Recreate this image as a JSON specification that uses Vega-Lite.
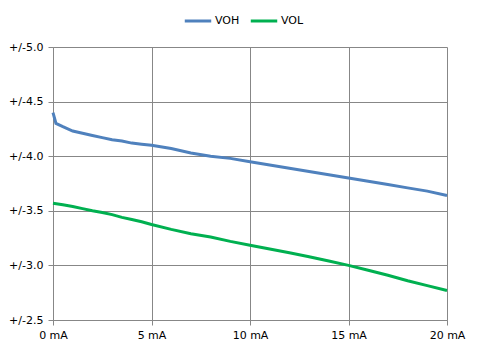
{
  "$schema": "https://vega.github.io/schema/vega-lite/v6.json",
  "width": 394,
  "height": 273,
  "autosize": {"type": "none"},
  "padding": {"left": 53, "top": 47, "right": 34, "bottom": 34},
  "background": "white",
  "config": {
    "view": {"stroke": null},
    "font": "DejaVu Sans",
    "axis": {"labelFont": "DejaVu Sans", "labelFontSize": 11, "labelColor": "#000000", "gridColor": "#878787", "gridOpacity": 1, "domainColor": "#878787", "tickColor": "#878787", "tickSize": 5, "title": null}
  },
  "data": {"values": [
    {"mA": 0, "series": "VOH", "v": 4.40},
    {"mA": 0.15, "series": "VOH", "v": 4.30},
    {"mA": 0.5, "series": "VOH", "v": 4.27},
    {"mA": 1, "series": "VOH", "v": 4.23},
    {"mA": 1.5, "series": "VOH", "v": 4.21},
    {"mA": 2, "series": "VOH", "v": 4.19},
    {"mA": 2.5, "series": "VOH", "v": 4.17},
    {"mA": 3, "series": "VOH", "v": 4.15},
    {"mA": 3.5, "series": "VOH", "v": 4.14},
    {"mA": 4, "series": "VOH", "v": 4.12},
    {"mA": 4.5, "series": "VOH", "v": 4.11},
    {"mA": 5, "series": "VOH", "v": 4.10},
    {"mA": 6, "series": "VOH", "v": 4.07},
    {"mA": 7, "series": "VOH", "v": 4.03},
    {"mA": 8, "series": "VOH", "v": 4.00},
    {"mA": 9, "series": "VOH", "v": 3.98},
    {"mA": 10, "series": "VOH", "v": 3.95},
    {"mA": 11, "series": "VOH", "v": 3.92},
    {"mA": 12, "series": "VOH", "v": 3.89},
    {"mA": 13, "series": "VOH", "v": 3.86},
    {"mA": 14, "series": "VOH", "v": 3.83},
    {"mA": 15, "series": "VOH", "v": 3.80},
    {"mA": 16, "series": "VOH", "v": 3.77},
    {"mA": 17, "series": "VOH", "v": 3.74},
    {"mA": 18, "series": "VOH", "v": 3.71},
    {"mA": 19, "series": "VOH", "v": 3.68},
    {"mA": 20, "series": "VOH", "v": 3.64},
    {"mA": 0, "series": "VOL", "v": 3.57},
    {"mA": 0.5, "series": "VOL", "v": 3.555},
    {"mA": 1, "series": "VOL", "v": 3.54},
    {"mA": 1.5, "series": "VOL", "v": 3.52},
    {"mA": 2, "series": "VOL", "v": 3.50},
    {"mA": 2.5, "series": "VOL", "v": 3.485},
    {"mA": 3, "series": "VOL", "v": 3.465},
    {"mA": 3.5, "series": "VOL", "v": 3.44},
    {"mA": 4, "series": "VOL", "v": 3.42},
    {"mA": 4.5, "series": "VOL", "v": 3.40},
    {"mA": 5, "series": "VOL", "v": 3.375},
    {"mA": 6, "series": "VOL", "v": 3.33},
    {"mA": 7, "series": "VOL", "v": 3.29},
    {"mA": 8, "series": "VOL", "v": 3.26},
    {"mA": 9, "series": "VOL", "v": 3.22},
    {"mA": 10, "series": "VOL", "v": 3.185},
    {"mA": 11, "series": "VOL", "v": 3.15},
    {"mA": 12, "series": "VOL", "v": 3.115},
    {"mA": 13, "series": "VOL", "v": 3.08},
    {"mA": 14, "series": "VOL", "v": 3.04},
    {"mA": 15, "series": "VOL", "v": 3.00},
    {"mA": 16, "series": "VOL", "v": 2.955},
    {"mA": 17, "series": "VOL", "v": 2.91},
    {"mA": 18, "series": "VOL", "v": 2.86},
    {"mA": 19, "series": "VOL", "v": 2.815},
    {"mA": 20, "series": "VOL", "v": 2.77}
  ]},
  "mark": {"type": "line", "strokeWidth": 3, "interpolate": "linear"},
  "encoding": {
    "x": {"field": "mA", "type": "quantitative", "scale": {"domain": [0, 20], "nice": false},
      "axis": {"values": [0, 5, 10, 15, 20], "labelExpr": "datum.value + ' mA'", "labelPadding": 4, "labelFlush": false}},
    "y": {"field": "v", "type": "quantitative", "scale": {"domain": [2.5, 5], "nice": false, "zero": false},
      "axis": {"values": [2.5, 3, 3.5, 4, 4.5, 5], "labelExpr": "'+/-' + format(datum.value, '.1f')", "labelPadding": 5}},
    "color": {"field": "series", "type": "nominal",
      "scale": {"domain": ["VOH", "VOL"], "range": ["#4F81BD", "#00B050"]},
      "legend": {"title": null, "orient": "none", "direction": "horizontal", "legendX": 130, "legendY": -41,
        "symbolType": "stroke", "symbolSize": 700, "symbolStrokeWidth": 3, "labelFontSize": 11, "labelFont": "DejaVu Sans", "labelOffset": 2, "columnPadding": 4}}
  }
}
